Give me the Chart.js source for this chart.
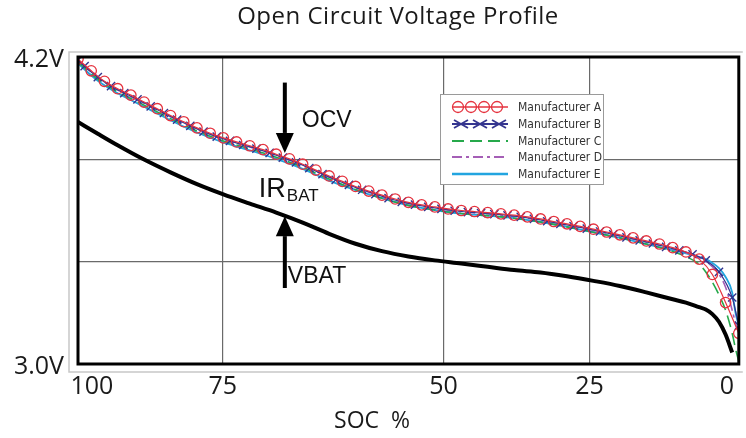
<!DOCTYPE html>
<html>
<head>
<meta charset="utf-8">
<title>Open Circuit Voltage Profile</title>
<script src="https://cdn.jsdelivr.net/npm/chart.js@4"></script>
<style>
  html, body { margin: 0; padding: 0; background: #fff; }
  #wrap { width: 746px; height: 438px; }
</style>
</head>
<body>
<div id="wrap"><canvas id="ocvChart" width="746" height="438"></canvas></div>
<script>
// SOC positions (%) and cell voltages (V) for each curve
const socA = [100, 98, 96, 94, 92, 90, 88, 86, 84, 82, 80, 78, 76, 74, 72, 70, 68, 66, 64, 62,
  60, 58, 56, 54, 52, 50, 48, 46, 44, 42, 40, 38, 36, 34, 32, 30, 28, 26, 24, 22,
  20, 18, 16, 14, 12, 10, 8, 6, 4, 2, 0];
const voltsA = [4.192, 4.146, 4.105, 4.076, 4.051, 4.024, 3.998, 3.971, 3.947, 3.923,
  3.902, 3.884, 3.868, 3.853, 3.838, 3.820, 3.802, 3.781, 3.758, 3.735,
  3.714, 3.694, 3.676, 3.660, 3.645, 3.632, 3.622, 3.614, 3.606, 3.600,
  3.596, 3.592, 3.587, 3.582, 3.575, 3.567, 3.557, 3.548, 3.538, 3.527,
  3.516, 3.505, 3.493, 3.481, 3.469, 3.455, 3.438, 3.410, 3.350, 3.240, 3.120];

const socB = [100, 99, 97, 95, 93, 91, 89, 87, 85, 83, 81, 79, 77, 75, 73, 71, 69, 67, 65, 63, 61,
  59, 57, 55, 53, 51, 49, 47, 45, 43, 41, 39, 37, 35, 33, 31, 29, 27, 25, 23, 21,
  19, 17, 15, 13, 11, 9, 7, 5, 3, 1, 0];
const voltsB = [4.188, 4.164, 4.121, 4.086, 4.059, 4.034, 4.007, 3.981, 3.955, 3.931, 3.908,
  3.889, 3.872, 3.856, 3.842, 3.825, 3.807, 3.788, 3.766, 3.742, 3.720,
  3.700, 3.681, 3.664, 3.648, 3.634, 3.623, 3.614, 3.606, 3.599, 3.594,
  3.590, 3.586, 3.581, 3.575, 3.567, 3.558, 3.548, 3.539, 3.529, 3.518,
  3.507, 3.495, 3.483, 3.471, 3.458, 3.444, 3.429, 3.405, 3.360, 3.260, 3.150];

const socLine = [100, 97, 94, 90, 86, 82, 78, 74, 70, 66, 62, 58, 54, 50, 46, 42, 38, 34, 30, 26,
  22, 18, 14, 10, 8, 6, 5, 4, 3, 2, 1, 0.5, 0];
const voltsC = [4.180, 4.113, 4.064, 4.012, 3.959, 3.911, 3.872, 3.841, 3.808, 3.769,
  3.723, 3.682, 3.648, 3.620, 3.602, 3.588, 3.580, 3.570, 3.555, 3.536,
  3.515, 3.493, 3.469, 3.440, 3.420, 3.390, 3.360, 3.320, 3.270, 3.210, 3.120, 3.060, 3.010];
const voltsD = [4.187, 4.120, 4.071, 4.019, 3.966, 3.918, 3.879, 3.848, 3.815, 3.776,
  3.730, 3.689, 3.655, 3.627, 3.609, 3.595, 3.587, 3.577, 3.562, 3.543,
  3.522, 3.500, 3.476, 3.450, 3.435, 3.415, 3.400, 3.380, 3.350, 3.300, 3.210, 3.160, 3.120];
const voltsE = [4.174, 4.107, 4.058, 4.006, 3.953, 3.905, 3.866, 3.835, 3.802, 3.763,
  3.717, 3.680, 3.648, 3.620, 3.602, 3.588, 3.580, 3.570, 3.555, 3.536,
  3.515, 3.493, 3.469, 3.445, 3.432, 3.418, 3.410, 3.395, 3.375, 3.340, 3.280, 3.200, 3.150];

// loaded battery voltage
const socVbat = [100, 97, 94, 90, 86, 82, 78, 74, 70, 66, 62, 58, 54, 50, 46, 42, 38, 34, 30, 26,
  22, 18, 14, 10, 8, 6, 5, 4, 3, 2, 1];
const voltsVbat = [3.946, 3.900, 3.855, 3.799, 3.749, 3.703, 3.663, 3.627, 3.592, 3.553,
  3.509, 3.470, 3.441, 3.420, 3.405, 3.393, 3.380, 3.367, 3.358, 3.343,
  3.325, 3.305, 3.280, 3.253, 3.240, 3.222, 3.213, 3.195, 3.165, 3.115, 3.045];

// axis ticks
const socTicks = [97.9, 78.1, 44.7, 22.6, 1.8];
const socTickLabels = ['100', '75', '50', '25', '0'];
const voltTicks = [3.0, 3.4, 3.8, 4.2];
const voltTickLabels = ['3.0V', '', '', '4.2V'];

const manufacturers = ['Manufacturer A', 'Manufacturer B', 'Manufacturer C', 'Manufacturer D', 'Manufacturer E'];

// where the OCV / VBAT arrows sit
const arrowSoc = 68.7;
const ocvTailV = 4.10, ocvTipV = 3.825;
const vbatTipV = 3.578, vbatTailV = 3.297;

const toPoints = (xs, ys) => xs.map((x, i) => ({ x: x, y: ys[i] }));

const textFont = '"Open Sans", "DejaVu Sans", sans-serif';
const noteFont = '"Liberation Sans", Arial, sans-serif';

const datasets = [
  {
    label: manufacturers[0], data: toPoints(socA, voltsA),
    borderColor: '#e5333f', borderWidth: 1.2,
    pointStyle: 'circle', pointRadius: 5.2, pointBorderWidth: 1.3,
    pointBorderColor: '#e5333f', pointBackgroundColor: 'rgba(0,0,0,0)',
    kind: 'circles'
  },
  {
    label: manufacturers[1], data: toPoints(socB, voltsB),
    borderColor: '#34358f', borderWidth: 1.2,
    pointStyle: 'crossRot', pointRadius: 5.8, pointBorderWidth: 1.4,
    pointBorderColor: '#34358f',
    kind: 'crosses'
  },
  {
    label: manufacturers[2], data: toPoints(socLine, voltsC),
    borderColor: '#26a94b', borderWidth: 1.6, borderDash: [12, 6],
    pointRadius: 0, kind: 'line'
  },
  {
    label: manufacturers[3], data: toPoints(socLine, voltsD),
    borderColor: '#a55fb6', borderWidth: 1.6, borderDash: [10, 4, 3, 4],
    pointRadius: 0, kind: 'line'
  },
  {
    label: manufacturers[4], data: toPoints(socLine, voltsE),
    borderColor: '#22a5e0', borderWidth: 1.8,
    pointRadius: 0, kind: 'line'
  },
  {
    label: 'VBAT', data: toPoints(socVbat, voltsVbat),
    borderColor: '#000000', borderWidth: 4,
    pointRadius: 0, kind: 'vbat'
  }
];

// title, outer frame, plot border, arrows and labels
const frameAndNotes = {
  id: 'frameAndNotes',
  afterDatasetsDraw(chart) {
    const { ctx, chartArea: a, scales } = chart;
    const x = scales.x, y = scales.y;
    ctx.save();

    // light outer frame
    ctx.strokeStyle = '#c8c8c8';
    ctx.lineWidth = 1.5;
    ctx.beginPath();
    ctx.moveTo(a.right + 4, a.top - 5);
    ctx.lineTo(a.left - 9, a.top - 5);
    ctx.lineTo(a.left - 9, a.bottom + 8);
    ctx.lineTo(a.right + 4, a.bottom + 8);
    ctx.stroke();

    // heavy plot border
    ctx.strokeStyle = '#000';
    ctx.lineWidth = 3;
    ctx.strokeRect(a.left, a.top, a.right - a.left, a.bottom - a.top);

    // arrows
    const ax = x.getPixelForValue(arrowSoc);
    const drawArrow = (fromY, tipY) => {
      const dir = tipY > fromY ? 1 : -1;
      const headLen = 20, headHalf = 9;
      ctx.fillStyle = '#000';
      ctx.strokeStyle = '#000';
      ctx.lineWidth = 4;
      ctx.beginPath();
      ctx.moveTo(ax, fromY);
      ctx.lineTo(ax, tipY - dir * headLen);
      ctx.stroke();
      ctx.beginPath();
      ctx.moveTo(ax, tipY);
      ctx.lineTo(ax - headHalf, tipY - dir * headLen);
      ctx.lineTo(ax + headHalf, tipY - dir * headLen);
      ctx.closePath();
      ctx.fill();
    };
    drawArrow(y.getPixelForValue(ocvTailV), y.getPixelForValue(ocvTipV));
    drawArrow(y.getPixelForValue(vbatTailV), y.getPixelForValue(vbatTipV));

    ctx.fillStyle = '#111';
    ctx.textBaseline = 'alphabetic';
    ctx.textAlign = 'left';
    ctx.font = '23px ' + noteFont;
    ctx.fillText('OCV', ax + 17, 127);
    ctx.fillText('VBAT', ax + 3, 283);
    ctx.font = '27px ' + noteFont;
    ctx.fillText('IR', ax - 26, 197);
    const irW = ctx.measureText('IR').width;
    ctx.font = '17px ' + noteFont;
    ctx.fillText('BAT', ax - 26 + irW + 1, 201);

    // x axis name
    ctx.font = '23px ' + textFont;
    ctx.textAlign = 'center';
    ctx.textBaseline = 'middle';
    ctx.fillStyle = '#1a1a1a';
    ctx.fillText('SOC  %', 372, 421);

    // chart title
    ctx.font = '24px ' + textFont;
    ctx.letterSpacing = '0.5px';
    ctx.textBaseline = 'alphabetic';
    ctx.fillText('Open Circuit Voltage Profile', 398, 23.5);
    ctx.letterSpacing = '0px';

    ctx.restore();
  }
};

// boxed legend inside the plot
const legendBox = {
  id: 'legendBox',
  afterDraw(chart) {
    const ctx = chart.ctx;
    const box = { x: 440, y: 94, w: 163, h: 90 };
    const rowY = [107, 124, 141, 157, 174];
    ctx.save();
    ctx.fillStyle = '#fff';
    ctx.fillRect(box.x, box.y, box.w, box.h);
    ctx.strokeStyle = '#9a9a9a';
    ctx.lineWidth = 1;
    ctx.strokeRect(box.x + 0.5, box.y + 0.5, box.w, box.h);

    chart.data.datasets.slice(0, 5).forEach((ds, i) => {
      const ry = rowY[i];
      const x0 = 452, x1 = 508;
      ctx.strokeStyle = ds.borderColor;
      if (ds.kind === 'circles') {
        ctx.lineWidth = 1.3;
        ctx.beginPath();
        ctx.moveTo(x0, ry);
        ctx.lineTo(x1, ry);
        ctx.stroke();
        for (let k = 0; k < 4; k++) {
          ctx.beginPath();
          ctx.arc(458 + k * 13, ry, 5.5, 0, Math.PI * 2);
          ctx.stroke();
        }
      } else if (ds.kind === 'crosses') {
        ctx.lineWidth = 1.8;
        ctx.beginPath();
        ctx.moveTo(x0, ry);
        ctx.lineTo(x1, ry);
        ctx.stroke();
        for (let k = 0; k < 3; k++) {
          const cx = 461 + k * 19;
          ctx.beginPath();
          ctx.moveTo(cx - 7, ry - 4);
          ctx.lineTo(cx + 7, ry + 4);
          ctx.moveTo(cx - 7, ry + 4);
          ctx.lineTo(cx + 7, ry - 4);
          ctx.stroke();
        }
      } else {
        ctx.lineWidth = ds.borderDash ? 2.2 : 2.6;
        ctx.setLineDash(ds.borderDash || []);
        ctx.beginPath();
        ctx.moveTo(x0, ry);
        ctx.lineTo(x1, ry);
        ctx.stroke();
        ctx.setLineDash([]);
      }
      ctx.fillStyle = '#333';
      ctx.font = '12px "Liberation Sans Narrow", "DejaVu Sans Condensed", sans-serif';
      ctx.textAlign = 'left';
      ctx.textBaseline = 'middle';
      ctx.fillText(ds.label, 518, ry + 1);
    });
    ctx.restore();
  }
};

new Chart(document.getElementById('ocvChart'), {
  type: 'line',
  data: { datasets: datasets },
  options: {
    responsive: false,
    animation: false,
    events: [],
    layout: { padding: { left: 0, right: 1, top: 57, bottom: 0 } },
    elements: { line: { cubicInterpolationMode: 'monotone' } },
    plugins: {
      legend: { display: false },
      tooltip: { enabled: false },
      title: { display: false }
    },
    scales: {
      x: {
        type: 'linear',
        reverse: true,
        min: 0,
        max: 100,
        afterBuildTicks: (scale) => { scale.ticks = socTicks.map(v => ({ value: v })); },
        afterFit: (scale) => { scale.height = 74; },
        border: { display: false },
        grid: {
          drawTicks: false,
          lineWidth: 1.2,
          color: (c) => (c.index === 0 || c.index === socTicks.length - 1) ? 'rgba(0,0,0,0)' : '#6a6a6a'
        },
        ticks: {
          padding: 8,
          maxRotation: 0,
          autoSkip: false,
          color: '#1a1a1a',
          font: { family: textFont, size: 25 },
          callback: (v, i) => socTickLabels[i]
        }
      },
      y: {
        min: 3.0,
        max: 4.2,
        afterBuildTicks: (scale) => { scale.ticks = voltTicks.map(v => ({ value: v })); },
        afterFit: (scale) => { scale.width = 78; },
        border: { display: false },
        grid: { drawTicks: false, lineWidth: 1.2, color: '#6a6a6a' },
        ticks: {
          padding: 14,
          labelOffset: 3,
          autoSkip: false,
          color: '#1a1a1a',
          font: { family: textFont, size: 25 },
          callback: (v, i) => voltTickLabels[i]
        }
      }
    }
  },
  plugins: [frameAndNotes, legendBox]
});
</script>
</body>
</html>
